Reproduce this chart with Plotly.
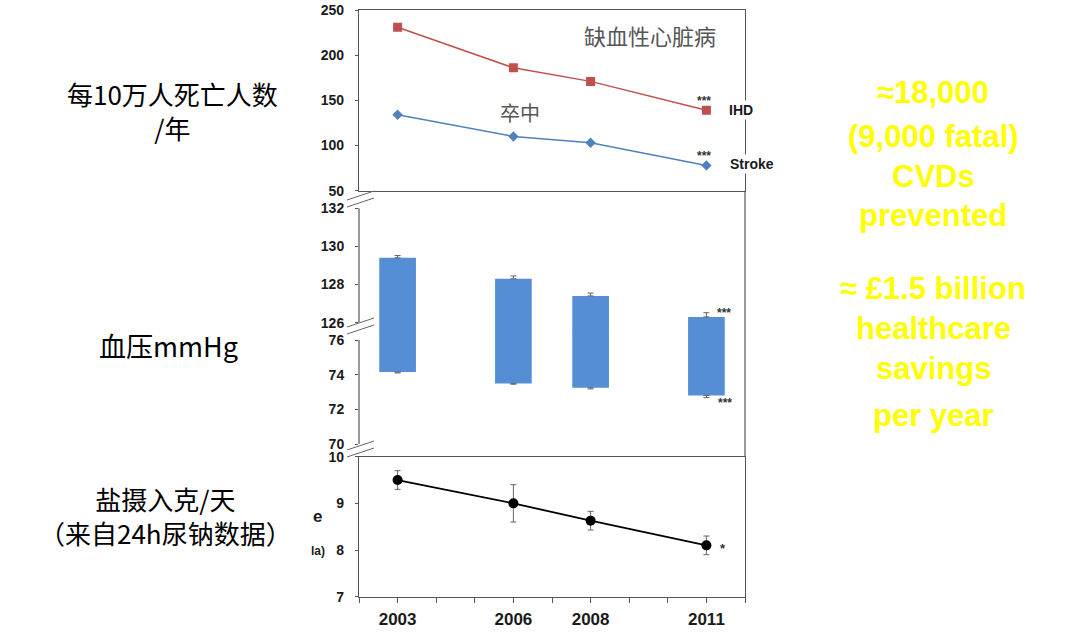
import plotly.graph_objects as go

# ---------------- data ----------------
years = [2003, 2006, 2008, 2011]
ihd = [231, 186, 171, 139]          # IHD deaths per 100k / year
stroke = [134, 110, 103, 78]        # stroke deaths per 100k / year
systolic = [129.4, 128.3, 127.4, 126.3]
systolic_err = [0.12, 0.15, 0.15, 0.22]
diastolic = [74.15, 73.5, 73.25, 72.8]
diastolic_err = [0.05, 0.05, 0.07, 0.12]
salt = [9.5, 9.0, 8.63, 8.1]
salt_err = [0.2, 0.4, 0.2, 0.2]
year_ticks = list(range(2002, 2013))
year_labels = ["" if y not in years else str(y) for y in year_ticks]

W, H = 1080, 637
def px(x): return x / W
def py(y): return 1 - y / H

# panel geometry (window pixels)
XL, XR = 359, 745
TOP_T, TOP_B = 10, 190.7
MID_T, MID_SPLIT, MID_B = 190.7, 331.5, 456.7
BOT_T, BOT_B = 456.7, 596.7
LO_T = MID_SPLIT - 1  # lower bp subplot overlaps by 1px to hide the seam

# axis ranges derived from the pixel scale
up_ref, up_ref_px, up_scale = 132, 208.3, 19.05
up_lo = up_ref - (MID_SPLIT - up_ref_px) / up_scale
up_hi = up_ref + (up_ref_px - MID_T) / up_scale
lo_ref, lo_ref_px, lo_scale = 76, 340.0, 17.35
lo_hi = lo_ref + (lo_ref_px - LO_T) / lo_scale
lo_lo = lo_ref - (MID_B - lo_ref_px) / lo_scale

RED = "#C0504D"
BLUE = "#4F81BD"
BAR = "#558ED5"
AX = "#555555"
TXT = "#1a1a1a"
FONT = "Liberation Sans"
CJK = "Noto Sans CJK SC"
YELLOW = "#FFFF00"

fig = go.Figure()

# top panel: mortality
fig.add_trace(go.Scatter(x=years, y=ihd, mode="lines+markers", xaxis="x", yaxis="y",
                         line=dict(color=RED, width=1.5),
                         marker=dict(symbol="square", size=9, color=RED)))
fig.add_trace(go.Scatter(x=years, y=stroke, mode="lines+markers", xaxis="x", yaxis="y",
                         line=dict(color=BLUE, width=1.5),
                         marker=dict(symbol="diamond", size=8, color=BLUE)))

# middle panel: blood pressure bars (split across axis break)
fig.add_trace(go.Bar(x=years, y=[s - up_lo for s in systolic], base=up_lo,
                     xaxis="x2", yaxis="y2", width=0.95,
                     marker=dict(color=BAR, line=dict(width=0))))
fig.add_trace(go.Bar(x=years, y=[d - lo_hi for d in diastolic], base=lo_hi,
                     xaxis="x3", yaxis="y3", width=0.95,
                     marker=dict(color=BAR, line=dict(width=0))))
fig.add_trace(go.Scatter(x=years, y=systolic, mode="markers", xaxis="x2", yaxis="y2",
                         marker=dict(size=1, opacity=0),
                         error_y=dict(type="data", symmetric=False, array=systolic_err,
                                      arrayminus=[0] * 4, color="#666", thickness=1, width=3)))
fig.add_trace(go.Scatter(x=years, y=diastolic, mode="markers", xaxis="x3", yaxis="y3",
                         marker=dict(size=1, opacity=0),
                         error_y=dict(type="data", symmetric=False, array=[0] * 4,
                                      arrayminus=diastolic_err, color="#666", thickness=1, width=3)))

# bottom panel: salt intake
fig.add_trace(go.Scatter(x=years, y=salt, mode="lines+markers", xaxis="x4", yaxis="y4",
                         line=dict(color="black", width=1.8),
                         marker=dict(symbol="circle", size=10, color="black"),
                         error_y=dict(type="data", array=salt_err, color="#666",
                                      thickness=1, width=3)))

tickfont = dict(family=FONT, size=14, color=TXT, weight="bold")
xdom = [px(XL), px(XR)]
xrange = [2002, 2012]

fig.update_layout(
    width=W, height=H, margin=dict(l=0, r=0, t=0, b=0, autoexpand=False),
    paper_bgcolor="white", plot_bgcolor="rgba(0,0,0,0)", showlegend=False,
    barmode="overlay",
    xaxis=dict(domain=xdom, range=xrange, anchor="y", showline=True, mirror=True,
               linecolor=AX, linewidth=1.2, showgrid=False, zeroline=False,
               showticklabels=False, ticks="", automargin=False),
    yaxis=dict(domain=[py(TOP_B), py(TOP_T)], range=[50, 250], anchor="x",
               tickvals=[50, 100, 150, 200, 250], showline=True, mirror=True,
               linecolor=AX, linewidth=1.2, showgrid=False, zeroline=False,
               ticks="outside", ticklen=3, tickcolor=AX, tickfont=tickfont,
               ticklabelstandoff=8, automargin=False, ticklabeloverflow="allow"),
    xaxis2=dict(domain=xdom, range=xrange, anchor="y2", visible=False, automargin=False),
    yaxis2=dict(domain=[py(MID_SPLIT), py(MID_T)], range=[up_lo, up_hi], anchor="x2",
                tickvals=[126, 128, 130, 132], showline=False, showgrid=False,
                zeroline=False, ticks="outside", ticklen=3, tickcolor=AX,
                tickfont=tickfont, ticklabelstandoff=8, automargin=False),
    xaxis3=dict(domain=xdom, range=xrange, anchor="y3", visible=False, automargin=False),
    yaxis3=dict(domain=[py(MID_B), py(LO_T)], range=[lo_lo, lo_hi], anchor="x3",
                tickvals=[70, 72, 74, 76], showline=False, showgrid=False,
                zeroline=False, ticks="outside", ticklen=3, tickcolor=AX,
                tickfont=tickfont, ticklabelstandoff=8, automargin=False),
    xaxis4=dict(domain=xdom, range=xrange, anchor="y4", showline=True, mirror=True,
                linecolor=AX, linewidth=1.2, showgrid=False, zeroline=False,
                tickvals=year_ticks, ticktext=year_labels, ticks="outside", ticklen=5,
                tickcolor=AX, tickfont=dict(family=FONT, size=17, color=TXT, weight="bold"),
                ticklabelstandoff=2, automargin=False),
    yaxis4=dict(domain=[py(BOT_B), py(BOT_T)], range=[7, 10], anchor="x4",
                tickvals=[7, 8, 9, 10], showline=True, mirror=True,
                linecolor=AX, linewidth=1.2, showgrid=False, zeroline=False,
                ticks="outside", ticklen=3, tickcolor=AX, tickfont=tickfont,
                ticklabelstandoff=8, automargin=False),
)

shapes = []
# middle panel left axis segments and right border
shapes.append(dict(type="line", xref="paper", yref="y2", x0=px(XL), x1=px(XL), y0=126, y1=132,
                   line=dict(color=AX, width=1.2)))
shapes.append(dict(type="line", xref="paper", yref="y3", x0=px(XL), x1=px(XL), y0=70, y1=76,
                   line=dict(color=AX, width=1.2)))
shapes.append(dict(type="line", xref="paper", yref="paper", x0=px(XR), x1=px(XR),
                   y0=py(MID_B), y1=py(MID_T), line=dict(color=AX, width=1.2)))
# axis-break marks
for yc in [199, 326, 449]:
    for dy in [-3.5, 3.5]:
        shapes.append(dict(type="line", xref="paper", yref="paper",
                           x0=px(347), x1=px(374), y0=py(yc + dy + 4.5), y1=py(yc + dy - 4.5),
                           line=dict(color="#666", width=1)))
fig.update_layout(shapes=shapes)

ann = []
def add(text, x, y, size, color=TXT, family=FONT, weight="normal", bg=None, xanchor="center"):
    d = dict(text=text, x=px(x), y=py(y), xref="paper", yref="paper", showarrow=False,
             xanchor=xanchor, yanchor="middle",
             font=dict(family=family, size=size, color=color, weight=weight))
    if bg:
        d["bgcolor"] = bg
    ann.append(d)

# panel labels
add("缺血性心脏病", 650, 35, 22, color="#555", family=CJK)
add("卒中", 520, 112, 20, color="#555", family=CJK)
add("IHD", 741, 110, 14, weight="bold", bg="white")
add("Stroke", 752, 164, 14, weight="bold", bg="white")
add("***", 704, 101, 12, color="#333", weight="bold")
add("***", 704, 156, 12, color="#333", weight="bold")
add("***", 724, 313, 12, color="#333", weight="bold")
add("***", 725, 403, 12, color="#333", weight="bold")
add("*", 723, 548, 13, color="#333", weight="bold")
# cropped axis-title remnants
add("e", 317, 516, 17, weight="bold")
add("la)", 318, 551, 12, weight="bold")

# left captions
add("每10万人死亡人数<br>/年", 172, 110, 26, color="black", family=CJK)
add("血压mmHg", 168, 345, 27, color="black", family=CJK)
add("盐摄入克/天<br>（来自24h尿钠数据）", 165, 515, 26, color="black", family=CJK)

# right yellow statements
right_lines = [("≈18,000", 93), ("(9,000 fatal)", 136), ("CVDs", 176), ("prevented", 215),
               ("≈ £1.5 billion", 288), ("healthcare", 328), ("savings", 368), ("per year", 415)]
for t, yy in right_lines:
    add(t, 933, yy, 31, color=YELLOW, weight="bold")

fig.update_layout(annotations=ann)
fig.write_html("out.html", config={"displayModeBar": False},
               post_script="document.body.style.margin='0';document.body.style.overflow='hidden';")
